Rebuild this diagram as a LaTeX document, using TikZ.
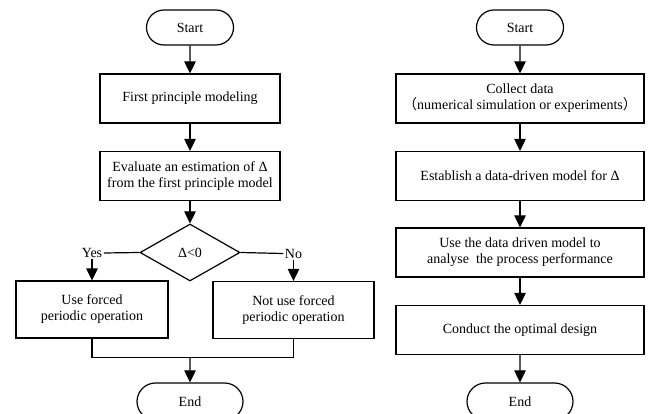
\documentclass[tikz,border=0pt]{standalone}
\usepackage{fontspec}
\setmainfont{Liberation Serif}
\newfontfamily\cjk{Noto Sans CJK SC}
\usetikzlibrary{positioning,shapes.geometric,shapes.misc,calc}
\usetikzlibrary{arrows.meta}
\tikzset{proc node/.style={rectangle,draw,line width=1.2pt,align=center,inner sep=2pt,minimum height=49pt,font=\fontsize{14}{16}\selectfont}}
\tikzset{term node/.style={rounded rectangle,draw,line width=1.2pt,minimum width=91pt,minimum height=35pt,inner sep=2pt,font=\fontsize{14}{16}\selectfont}}
\tikzset{dec node/.style={diamond,draw,line width=1.2pt,minimum width=100pt,minimum height=57pt,inner sep=0pt,font=\fontsize{14}{16}\selectfont}}
\tikzset{lbl node/.style={inner sep=1pt,font=\fontsize{14}{16}\selectfont}}

\begin{document}
\begin{tikzpicture}[auto, on grid, >={Triangle[length=12pt,width=11.5pt]}, line width=1.2pt]
      \useasboundingbox (0pt,0pt) rectangle (651pt,-414pt);
      % left chart
      \node[term node] (s1) at (190pt,-27.5pt) {Start};
      \node[proc node, minimum width=180pt] (m1) [below = 71pt of s1] {First principle modeling};
      \node[proc node, minimum width=180pt] (m2) [below = 77.5pt of m1] {Evaluate an estimation of Δ\\from the first principle model};
      \node[dec node] (d1) [below = 76.5pt of m2] {Δ<0};
      \node[proc node, minimum width=152pt, minimum height=57pt] (y1) [below left = 57pt and 98pt of d1] {Use forced\\periodic operation};
      \node[proc node, minimum width=161pt, minimum height=57pt] (n1) [below right = 57.5pt and 103.5pt of d1] {Not use forced\\periodic operation};
      \node[lbl node] (yes) [above = 56.5pt of y1] {Yes};
      \node[lbl node] (no) [above = 56.5pt of n1] {No};
      \node[term node, minimum width=110pt, minimum height=37pt] (e1) [below = 149pt of d1] {End};
      \coordinate (j1) at ($(d1 |- y1.south)+(0,-19pt)$);
      \draw[->] (s1) -- (m1);
      \draw[->] (m1) -- (m2);
      \draw[->] (m2) -- (d1);
      \draw[-] (d1.west) -- (yes.east);
      \draw[-] (d1.east) -- (no.west);
      \draw[->] (yes) -- (y1);
      \draw[->] (no) -- (n1);
      \draw[-] (y1.south) |- (j1) -| (n1.south);
      \draw[->] (j1) -- (e1);
      % right chart
      \node[term node] (s2) at (520pt,-27.5pt) {Start};
      \node[proc node, minimum width=248pt] (r1) [below = 71pt of s2] {Collect data\\{\cjk （}numerical simulation or experiments{\cjk ）}};
      \node[proc node, minimum width=248pt] (r2) [below = 77.5pt of r1] {Establish a data-driven model for Δ};
      \node[proc node, minimum width=248pt] (r3) [below = 76.5pt of r2] {Use the data driven model to\\analyse\ \ the process performance};
      \node[proc node, minimum width=248pt] (r4) [below = 77.5pt of r3] {Conduct the optimal design};
      \node[term node, minimum width=110pt, minimum height=37pt] (e2) [below = 71.5pt of r4] {End};
      \draw[->] (s2) -- (r1);
      \draw[->] (r1) -- (r2);
      \draw[->] (r2) -- (r3);
      \draw[->] (r3) -- (r4);
      \draw[->] (r4) -- (e2);
    \end{tikzpicture}
\end{document}
